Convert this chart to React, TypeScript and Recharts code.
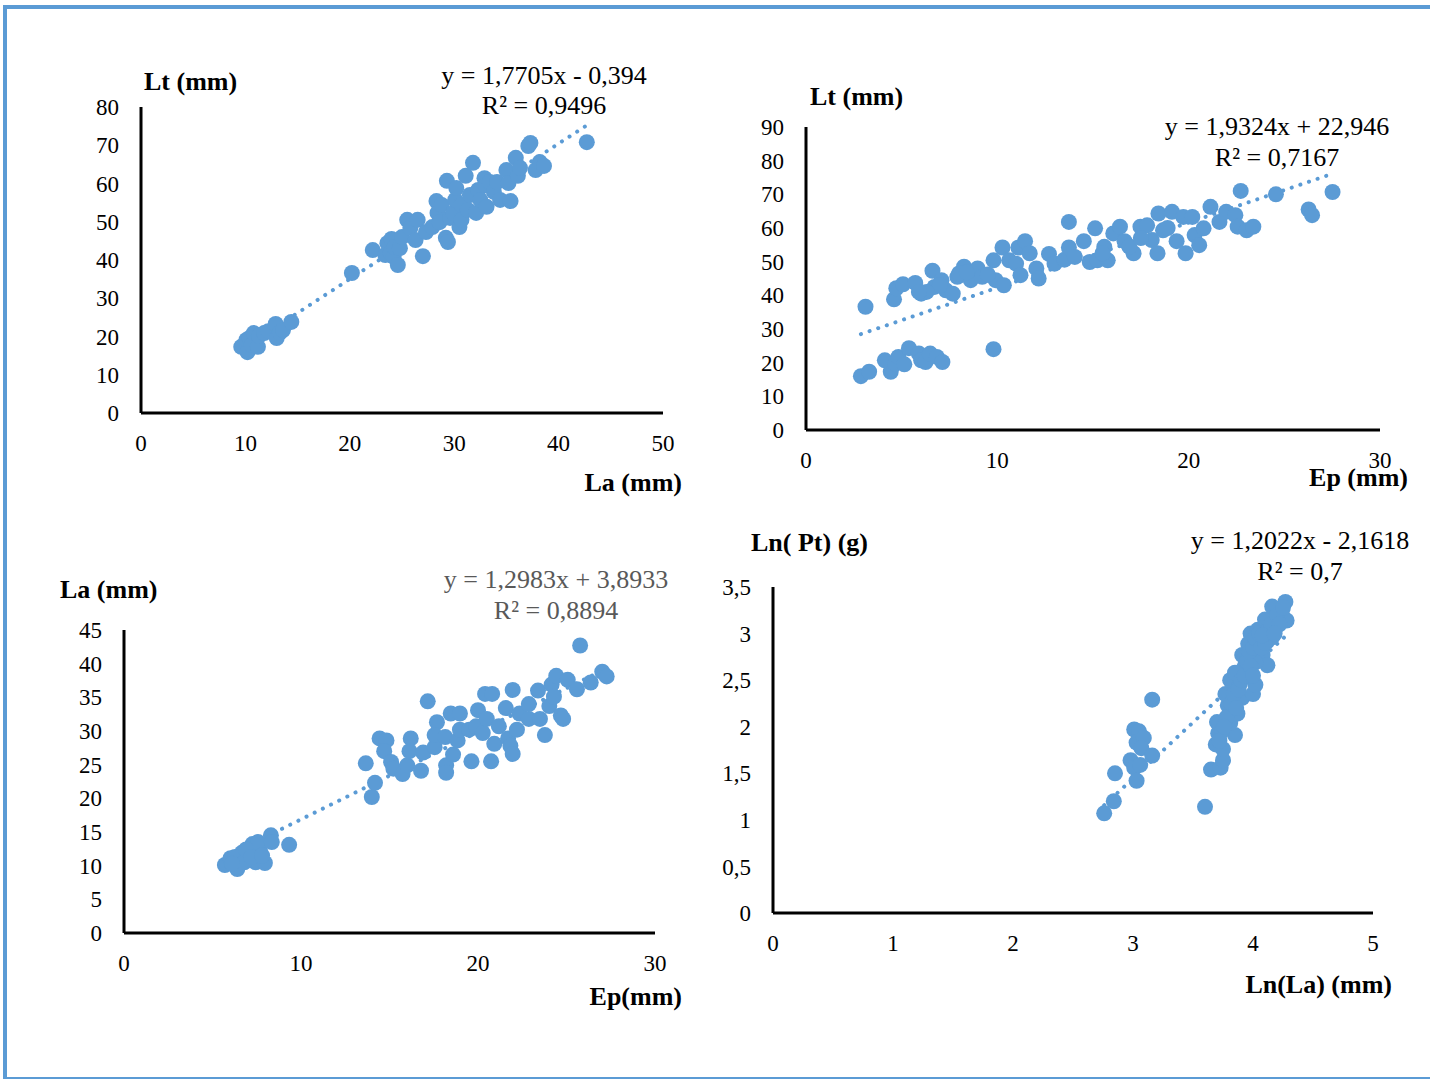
import React from 'react'
import { ScatterChart, Scatter, XAxis, YAxis } from 'recharts'

// Lt vs La
const la1 = [9.6, 10.1, 10.2, 10.4, 10.6, 10.8, 11.2, 11.3, 11.8, 12.2, 12.9, 13.0, 13.3, 13.6, 14.4, 20.2,
  22.2, 23.4, 23.6, 23.9, 24.0, 24.2, 24.3, 24.6, 24.8, 25.0, 25.5, 25.8, 26.3, 26.5, 27.0, 27.3, 27.9, 28.3, 28.4, 28.6,
  28.8, 29.2, 29.3, 29.4, 29.6, 29.9, 30.1, 30.2, 30.5, 30.7, 30.7, 31.1, 31.3, 31.5, 31.8, 32.1, 32.3, 32.5, 32.9, 33.0,
  33.1, 33.4, 33.8, 34.1, 34.4, 35.0, 35.2, 35.4, 35.9, 36.1, 36.3, 37.1, 37.3, 37.8, 38.2, 38.6, 42.7]
const lt1 = [17.3, 19.1, 15.9, 19.6, 17.8, 20.9, 17.3, 20.2, 20.9, 21.4, 23.3, 19.6, 21.0, 21.7, 23.8, 36.6,
  42.6, 41.3, 44.4, 41.8, 45.5, 40.8, 43.4, 38.7, 43.1, 46.0, 50.5, 48.4, 45.2, 50.5, 41.0, 47.3, 48.6, 55.4, 52.3, 49.9,
  54.4, 45.8, 60.7, 44.7, 51.0, 52.3, 55.7, 58.8, 48.6, 54.4, 50.5, 62.0, 53.1, 57.0, 65.4, 52.3, 58.3, 55.7, 61.4, 59.6,
  53.9, 60.4, 57.8, 60.4, 55.7, 63.5, 60.1, 55.4, 66.7, 62.0, 64.1, 69.8, 70.6, 63.5, 65.6, 64.6, 70.8]
const fit1 = [1.7705, -0.394]

// Lt vs Ep
const ep2 = [2.87, 3.3, 4.43, 4.12, 4.67, 4.83, 5.14, 5.38, 5.9, 6.02, 6.25, 6.49, 6.84, 7.13, 9.8, 3.11,
  4.6, 4.72, 5.07, 5.71, 6.02, 6.61, 6.72, 7.08, 7.31, 7.67, 7.91, 8.26, 8.61, 8.97, 9.21, 9.8, 9.91, 10.27, 10.34, 10.62,
  10.98, 11.21, 11.1, 11.45, 11.69, 12.04, 12.16, 12.7, 12.99, 13.51, 13.74, 13.74, 14.05, 14.52, 14.83, 15.11, 15.23,
  15.59, 15.77, 16.06, 16.41, 16.65, 17.12, 17.48, 17.83, 18.07, 18.37, 18.42, 18.66, 19.13, 19.37, 19.84, 19.72, 20.19,
  20.31, 20.55, 20.78, 21.14, 21.61, 21.96, 22.44, 22.56, 22.72, 23.03, 23.38, 24.56, 26.27, 26.45, 27.52,
  8.0, 8.4, 9.5, 7.0, 6.3, 5.9, 16.9, 15.5, 17.5, 18.9]
const lt2 = [16.0, 17.3, 17.3, 20.7, 19.7, 21.7, 19.5, 24.3, 22.7, 20.7, 20.2, 22.7, 21.7, 20.2, 24.0, 36.6,
  38.8, 42.1, 43.3, 43.7, 40.5, 47.3, 42.5, 44.5, 41.5, 40.5, 45.5, 48.5, 44.5, 48.0, 45.5, 50.4, 44.5, 54.2, 43.0, 50.4,
  49.4, 46.0, 54.2, 56.1, 52.5, 48.0, 45.0, 52.3, 49.4, 50.6, 61.8, 54.2, 51.4, 56.1, 49.9, 59.9, 50.4,
  54.4, 50.4, 58.4, 60.4, 56.1, 52.5, 60.4, 60.8, 56.4, 52.5, 64.3, 59.3, 64.8, 56.1, 52.5, 63.3, 63.3,
  57.9, 54.9, 59.9, 66.3, 61.8, 64.8, 63.8, 60.4, 71.0, 59.3, 60.4, 70.0, 65.5, 63.8, 70.7,
  46.5, 46.8, 46.2, 43.0, 41.0, 41.0, 54.5, 52.5, 57.0, 60.0]
const fit2 = [1.9324, 22.946]

// La vs Ep
const ep3 = [5.7, 6.02, 6.4, 6.66, 7.05, 7.26, 7.44, 7.7, 7.96, 7.57, 8.3, 8.35, 9.33, 6.27, 6.79, 6.1, 6.9, 7.2, 7.8,
  14.0, 14.18, 13.66, 14.44, 14.83, 14.7, 15.09, 15.22, 15.74, 16.0, 16.2, 16.13, 16.78, 16.9, 17.16, 17.55, 17.68, 17.55,
  18.15, 18.2, 18.2, 18.46, 18.59, 18.85, 18.98, 18.98, 19.5, 19.63, 19.89, 20.0, 20.27, 20.4, 20.5, 20.8, 20.74, 20.92,
  21.18, 21.57, 21.7, 21.83, 21.96, 21.96, 22.2, 22.35, 22.87, 22.87, 23.39, 23.5, 23.78, 24.03, 24.16, 24.29, 24.42,
  24.68, 24.81, 25.07, 25.59, 25.77, 26.37, 27.02, 27.27]
const la3 = [10.1, 11.1, 9.5, 11.9, 11.1, 13.2, 10.5, 12.1, 10.4, 13.5, 14.5, 13.5, 13.1, 11.3, 10.5, 10.3, 12.4, 11.3, 11.5,
  20.2, 22.3, 25.2, 28.9, 28.6, 27.0, 25.4, 24.4, 23.6, 24.9, 28.9, 27.0, 24.1, 26.8, 34.4, 27.6, 31.3, 29.4,
  29.1, 24.9, 23.8, 32.6, 26.5, 28.6, 32.6, 30.2, 30.2, 25.5, 30.7, 33.1, 29.7, 35.5, 31.8, 35.5, 25.5, 28.1,
  30.7, 33.4, 28.9, 27.8, 36.1, 26.6, 30.2, 32.6, 31.8, 34.0, 36.0, 31.8, 29.4, 33.7, 36.9, 35.1, 38.2,
  32.3, 31.8, 37.6, 36.2, 42.7, 37.2, 38.8, 38.1]
const fit3 = [1.2983, 3.8933]

// Ln(Pt) vs Ln(La)
const lnLa4 = [2.76, 2.84, 2.85, 2.98, 3.01, 3.03, 3.06, 3.01, 3.05, 3.03, 3.09, 3.07, 3.16, 3.16,
  3.6, 3.65, 3.73, 3.75, 3.75, 3.69, 3.71, 3.7, 3.85, 3.81, 3.87, 3.79, 3.77, 3.81, 3.89, 3.91, 4.0, 4.02, 3.92, 3.91,
  3.96, 3.98, 4.04, 4.08, 4.06, 4.12, 4.12, 4.16, 4.1, 4.18, 4.16, 4.24, 4.27, 4.28, 3.94, 3.96, 4.02, 3.85,
  3.78, 3.82, 3.84, 3.88, 3.9, 3.93, 3.95, 3.97, 4.0, 4.02, 4.05, 4.07, 4.1, 4.13, 4.15, 4.2, 4.22, 3.98, 4.0, 3.86,
  3.74, 3.72, 3.76, 4.08, 4.18, 4.25]
const lnPt4 = [1.07, 1.2, 1.5, 1.64, 1.56, 1.42, 1.59, 1.97, 1.95, 1.83, 1.88, 1.77, 1.69, 2.29,
  1.14, 1.54, 1.56, 1.64, 1.76, 1.81, 1.93, 2.05, 1.91, 2.04, 2.14, 2.23, 2.35, 2.5, 2.46, 2.31, 2.35, 2.45, 2.62, 2.77,
  2.89, 3.0, 3.04, 2.77, 2.92, 2.66, 2.92, 2.96, 3.15, 3.08, 3.29, 3.21, 3.34, 3.14, 2.69, 2.58, 2.69, 2.58,
  2.1, 2.25, 2.35, 2.4, 2.5, 2.55, 2.7, 2.8, 2.85, 2.95, 3.0, 2.85, 2.9, 3.05, 3.1, 3.2, 3.1, 2.65, 2.55, 2.2,
  1.95, 1.85, 2.0, 2.98, 3.0, 3.28]
const fit4 = [1.2022, -2.1618]

const BLUE = '#5B9BD5'
const FONT = '"Liberation Serif", "Times New Roman", serif'

const zip = (xs: number[], ys: number[]) => xs.map((x, i) => ({ x, y: ys[i] }))

const trend = (xs: number[], fit: number[]) => {
  const lo = Math.min(...xs)
  const hi = Math.max(...xs)
  return [lo, hi].map((x) => ({ x, y: fit[0] * x + fit[1] }))
}

const Dot = (p: any) => <circle cx={p.cx} cy={p.cy} r={8} fill={BLUE} />
const NoDot = () => <g />

type PlotProps = {
  xs: number[]
  ys: number[]
  fit: number[]
  left: number
  top: number
  w: number
  h: number
  xMax: number
  xTicks: number[]
  yMax: number
  yTicks: number[]
  comma?: boolean
}

const Plot = ({ xs, ys, fit, left, top, w, h, xMax, xTicks, yMax, yTicks, comma }: PlotProps) => {
  const tick = { fill: '#000', fontSize: 23, fontFamily: FONT }
  const axis = { stroke: '#000', strokeWidth: 3 }
  return (
    <div style={{ position: 'absolute', left: left - 60, top: top - 20 }}>
      <ScatterChart width={w + 90} height={h + 70} margin={{ top: 20, right: 30, bottom: 0, left: 0 }}>
        <XAxis type='number' dataKey='x' domain={[0, xMax]} ticks={xTicks} interval={0} height={50}
          tickLine={false} axisLine={axis} tick={tick} tickMargin={16} allowDataOverflow />
        <YAxis type='number' dataKey='y' domain={[0, yMax]} ticks={yTicks} interval={0} width={60}
          tickLine={false} axisLine={axis} tick={tick} tickMargin={16} allowDataOverflow
          tickFormatter={(v: number) => (comma ? String(v).replace('.', ',') : String(v))} />
        <Scatter data={trend(xs, fit)} shape={NoDot} isAnimationActive={false}
          line={{ stroke: BLUE, strokeWidth: 4, strokeDasharray: '0.1 9', strokeLinecap: 'round' }} />
        <Scatter data={zip(xs, ys)} shape={Dot} isAnimationActive={false} />
      </ScatterChart>
    </div>
  )
}

const App = () => {
  return (
    <div style={{ position: 'absolute', left: 0, top: 0, width: 1430, height: 1079, overflow: 'hidden', background: '#fff' }}>
      <div style={{ position: 'absolute', left: 3, top: 5, width: 1500, height: 1076, boxSizing: 'border-box', border: `4px solid ${BLUE}` }} />

      <Plot xs={la1} ys={lt1} fit={fit1} left={141} top={107} w={522} h={306}
        xMax={50} xTicks={[0, 10, 20, 30, 40, 50]} yMax={80} yTicks={[0, 10, 20, 30, 40, 50, 60, 70, 80]} />
      <Plot xs={ep2} ys={lt2} fit={fit2} left={806} top={127} w={574} h={303}
        xMax={30} xTicks={[0, 10, 20, 30]} yMax={90} yTicks={[0, 10, 20, 30, 40, 50, 60, 70, 80, 90]} />
      <Plot xs={ep3} ys={la3} fit={fit3} left={124} top={630} w={531} h={303}
        xMax={30} xTicks={[0, 10, 20, 30]} yMax={45} yTicks={[0, 5, 10, 15, 20, 25, 30, 35, 40, 45]} />
      <Plot xs={lnLa4} ys={lnPt4} fit={fit4} left={773} top={587} w={600} h={326}
        xMax={5} xTicks={[0, 1, 2, 3, 4, 5]} yMax={3.5} yTicks={[0, 0.5, 1, 1.5, 2, 2.5, 3, 3.5]} comma />

      <svg width={1430} height={1079} style={{ position: 'absolute', left: 0, top: 0, pointerEvents: 'none' }}
        fontFamily={FONT} fontSize={26}>
        <text x={144} y={90} fontWeight='bold'>Lt (mm)</text>
        <text x={544} y={84} textAnchor='middle'>y = 1,7705x - 0,394</text>
        <text x={544} y={114} textAnchor='middle'>R² = 0,9496</text>
        <text x={682} y={491} textAnchor='end' fontWeight='bold'>La (mm)</text>

        <text x={810} y={105} fontWeight='bold'>Lt (mm)</text>
        <text x={1277} y={135} textAnchor='middle'>y = 1,9324x + 22,946</text>
        <text x={1277} y={166} textAnchor='middle'>R² = 0,7167</text>
        <text x={1408} y={486} textAnchor='end' fontWeight='bold'>Ep (mm)</text>

        <text x={60} y={598} fontWeight='bold'>La (mm)</text>
        <text x={556} y={588} textAnchor='middle' fill='#595959'>y = 1,2983x + 3,8933</text>
        <text x={556} y={619} textAnchor='middle' fill='#595959'>R² = 0,8894</text>
        <text x={682} y={1005} textAnchor='end' fontWeight='bold'>Ep(mm)</text>

        <text x={751} y={551} fontWeight='bold'>Ln( Pt) (g)</text>
        <text x={1300} y={549} textAnchor='middle'>y = 1,2022x - 2,1618</text>
        <text x={1300} y={580} textAnchor='middle'>R² = 0,7</text>
        <text x={1392} y={993} textAnchor='end' fontWeight='bold'>Ln(La) (mm)</text>
      </svg>
    </div>
  )
}

export default App
